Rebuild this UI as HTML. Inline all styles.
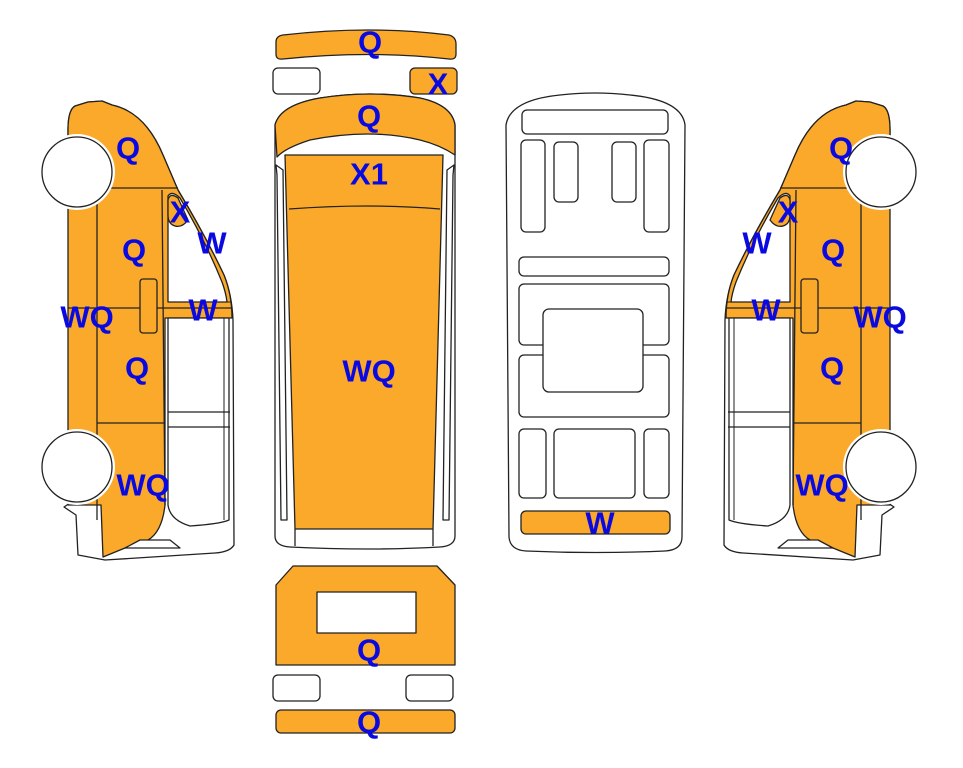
<!DOCTYPE html>
<html><head><meta charset="utf-8"><style>
html,body{margin:0;padding:0;background:#fff;}
svg{display:block;}
text{font-family:"Liberation Sans",sans-serif;font-weight:bold;font-size:31px;fill:#0a0ae0;text-anchor:middle;dominant-baseline:central;}
</style></head><body>
<svg width="963" height="768" viewBox="0 0 963 768" xmlns="http://www.w3.org/2000/svg">
<defs>
<g id="side" stroke="#222" stroke-width="1.3" stroke-linejoin="round">
  <path d="M68,130 Q68,110 75,106 L88,102 L102,101 L112,105 Q145,112 163,155 L178,190 Q205,235 224,275 Q232,295 233,320 L234,545 Q230,552 215,553 L105,560 L78,555 L76,515 L64,507 L70,503 L68,130 Z" fill="#fff"/>
  <path d="M68,130 Q68,110 75,106 L88,102 L102,101 L112,105 Q145,112 163,155 L178,190 Q205,235 224,275 Q232,295 232,318 L165,318 L165,505 Q162,532 148,540 L125,548 L103,557 L101,505 L68,505 Z" fill="#fba92a"/>
  <path d="M168,196 Q172,190 180,198 Q205,240 222,282 Q226,293 227,302 L168,302 Z" fill="#fff"/>
  <path d="M168,200 Q170,192 178,198 L188,220 Q182,228 175,226 Q168,224 168,215 Z" fill="#fba92a"/>
  <path d="M168,318 L229,318 L229,520 Q220,524 190,526 Q170,520 168,505 Z" fill="#fff"/>
  <line x1="168" y1="412" x2="230" y2="412"/>
  <line x1="168" y1="427" x2="230" y2="427"/>
  <line x1="224" y1="318" x2="224" y2="520" stroke-width="1"/>
  <line x1="97" y1="188" x2="178" y2="188"/>
  <line x1="97" y1="188" x2="97" y2="520"/>
  <line x1="68" y1="308" x2="232" y2="308"/>
  <line x1="97" y1="423" x2="165" y2="423"/>
  <line x1="162" y1="190" x2="165" y2="505"/>
  <line x1="232" y1="302" x2="168" y2="302" stroke-width="1"/>
  <rect x="140" y="279" width="17" height="54" rx="3" fill="#fba92a"/>
  <path d="M125,548 L140,540 L170,540 L180,548 Z" fill="#fff"/>
  <circle cx="77" cy="172" r="38" fill="#fff" stroke="none"/>
  <circle cx="77" cy="172" r="35" fill="#fff"/>
  <circle cx="77" cy="467" r="38" fill="#fff" stroke="none"/>
  <circle cx="77" cy="467" r="35" fill="#fff"/>
</g>
</defs>

<use href="#side"/>
<use href="#side" transform="translate(958,0) scale(-1,1)"/>

<g stroke="#222" stroke-width="1.3" stroke-linejoin="round">
  <path d="M276,42 Q276,36 283,35 Q370,25 449,35 Q456,37 456,44 L456,54 Q456,60 449,59 Q370,50 283,59 Q276,60 276,54 Z" fill="#fba92a"/>
  <rect x="273" y="68" width="47" height="26" rx="5" fill="#fff"/>
  <rect x="410" y="68" width="47" height="26" rx="5" fill="#fba92a"/>
  <path d="M275,125 Q280,105 320,98 Q370,90 420,98 Q452,105 455,125 L455,536 Q455,546 440,547 Q370,551 290,547 Q275,546 275,536 Z" fill="#fff"/>
  <path d="M285,155 L295,529 L433,529 L443,155 Z" fill="#fba92a"/>
  <path d="M275,125 Q280,105 320,98 Q370,90 420,98 Q452,105 455,125 L455,155 Q440,145 420,140 Q370,128 310,140 Q285,148 277,157 Z" fill="#fba92a"/>
  <path d="M289,209 Q370,203 440,209" fill="none"/>
  <path d="M295,529 L295,546 M433,529 L433,546" fill="none"/>
  <path d="M276,165 L283,170 L287,520 L281,520 L277,175 Z" fill="#fff"/>
  <path d="M454,165 L447,170 L443,520 L449,520 L453,175 Z" fill="#fff"/>
  <path d="M506,125 Q510,100 560,95 Q595,91 630,95 Q682,100 685,125 L682,537 Q682,550 665,551 Q595,554 526,551 Q510,550 509,537 Z" fill="#fff"/>
  <rect x="522" y="110" width="146" height="24" rx="5" fill="#fff"/>
  <rect x="521" y="140" width="24" height="92" rx="5" fill="#fff"/>
  <rect x="554" y="142" width="24" height="60" rx="5" fill="#fff"/>
  <rect x="612" y="142" width="24" height="60" rx="5" fill="#fff"/>
  <rect x="644" y="140" width="25" height="92" rx="5" fill="#fff"/>
  <rect x="519" y="257" width="150" height="19" rx="5" fill="#fff"/>
  <rect x="519" y="284" width="150" height="61" rx="5" fill="#fff"/>
  <rect x="519" y="355" width="150" height="62" rx="5" fill="#fff"/>
  <rect x="543" y="309" width="100" height="83" rx="6" fill="#fff"/>
  <rect x="519" y="429" width="27" height="69" rx="5" fill="#fff"/>
  <rect x="554" y="429" width="81" height="69" rx="5" fill="#fff"/>
  <rect x="644" y="429" width="25" height="69" rx="5" fill="#fff"/>
  <rect x="521" y="511" width="149" height="23" rx="5" fill="#fba92a"/>
  <path d="M293,566 L437,566 L455,585 L455,665 L276,665 L276,585 Z" fill="#fba92a"/>
  <rect x="317" y="592" width="99" height="41" fill="#fff"/>
  <rect x="273" y="675" width="47" height="26" rx="5" fill="#fff"/>
  <rect x="406" y="675" width="47" height="26" rx="5" fill="#fff"/>
  <rect x="276" y="710" width="179" height="23" rx="5" fill="#fba92a"/>
</g>

<text x="370" y="42">Q</text>
<text x="438" y="84">X</text>
<text x="369" y="116">Q</text>
<text x="369" y="174">X1</text>
<text x="369" y="371">WQ</text>
<text x="600" y="523">W</text>
<text x="369" y="650">Q</text>
<text x="369" y="722">Q</text>

<text x="128" y="148">Q</text>
<text x="180" y="212">X</text>
<text x="212" y="243">W</text>
<text x="134" y="250">Q</text>
<text x="87" y="317">WQ</text>
<text x="203" y="310">W</text>
<text x="137" y="368">Q</text>
<text x="143" y="485">WQ</text>

<text x="841" y="148">Q</text>
<text x="788" y="212">X</text>
<text x="757" y="243">W</text>
<text x="833" y="250">Q</text>
<text x="880" y="317">WQ</text>
<text x="766" y="310">W</text>
<text x="832" y="368">Q</text>
<text x="822" y="485">WQ</text>
</svg>
</body></html>
